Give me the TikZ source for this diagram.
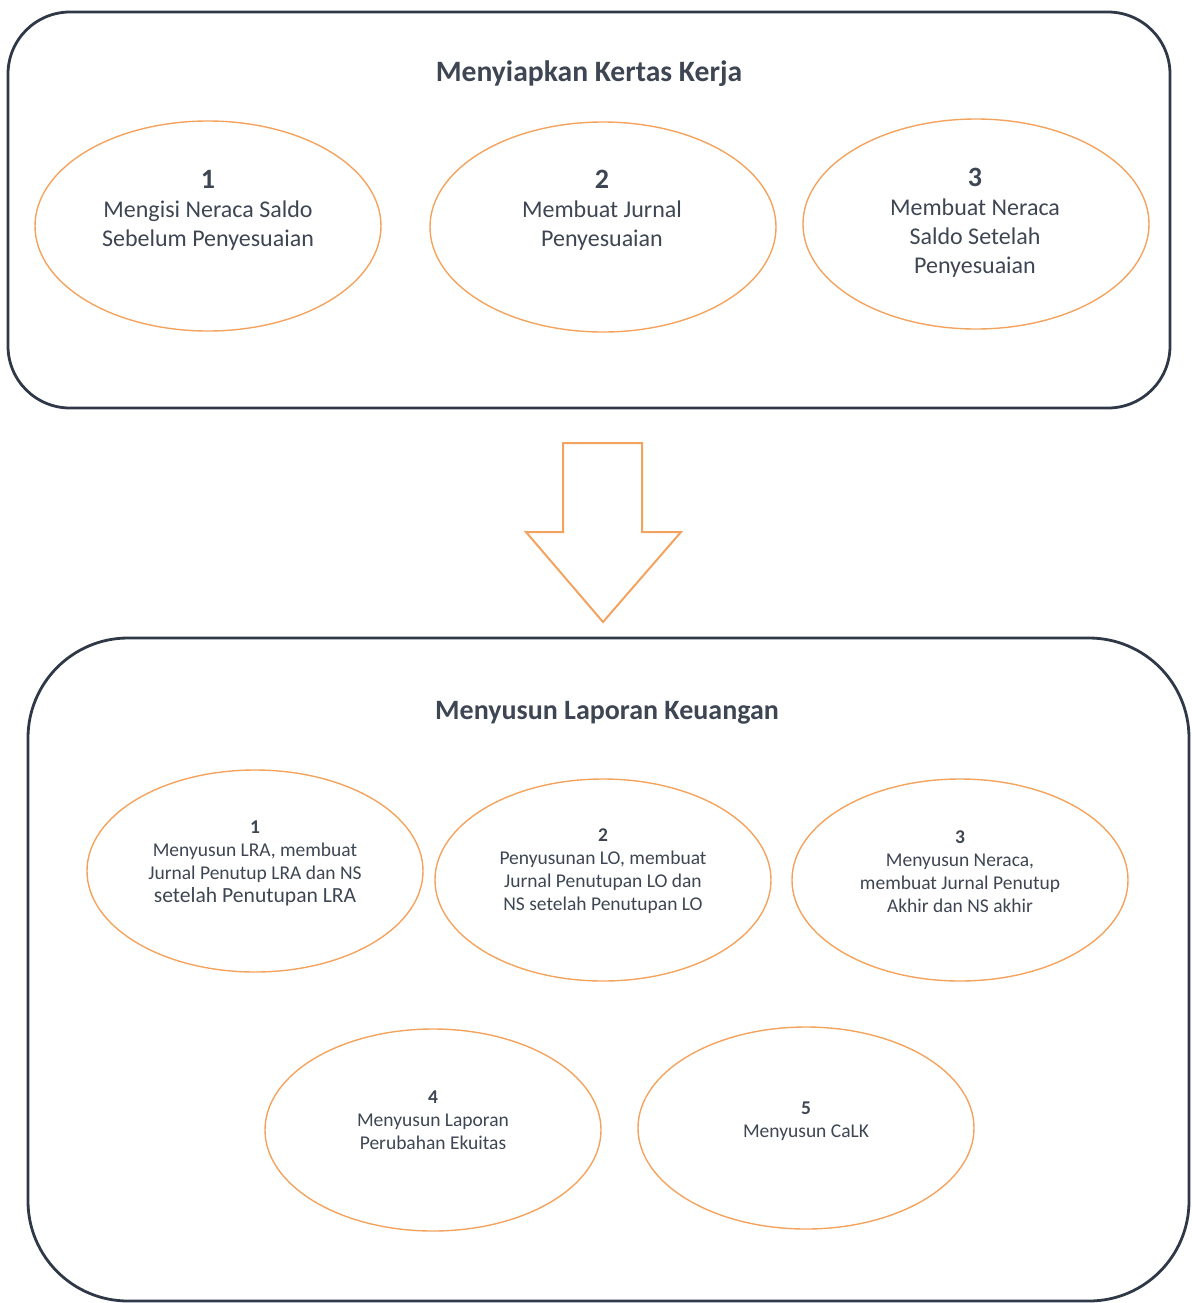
\documentclass[tikz,border=0pt]{standalone}
\usepackage{fontspec}
\setmainfont{Carlito}
\usetikzlibrary{shapes.geometric}
\definecolor{boxc}{HTML}{2F3847}
\definecolor{txtc}{HTML}{3E4653}
\definecolor{orng}{HTML}{F4A35E}
\newcommand{\bignum}[1]{{\fontsize{14}{14.5}\selectfont\bfseries #1}}
\begin{document}
\begin{tikzpicture}[x=0.5pt,y=-0.5pt,
  panel/.style={draw=boxc,line width=1.4pt},
  oval/.style={draw=orng,line width=0.7pt,ellipse,inner sep=0pt},
  bigoval/.style={oval,minimum width=173pt,minimum height=105pt},
  smalloval/.style={oval,minimum width=168pt,minimum height=101pt},
  title/.style={text=txtc,font=\fontsize{14.5}{16}\selectfont\bfseries},
  bigtxt/.style={text=txtc,align=center,font=\fontsize{12}{14.5}\selectfont},
  smalltxt/.style={text=txtc,align=center,font=\fontsize{9.75}{11.5}\selectfont},
  arrowshape/.style={draw=orng,line width=1pt,line join=miter}]
\useasboundingbox (0,0) rectangle (1191,1303);
% top panel
\draw[panel,rounded corners=31pt] (8,12) rectangle (1170,408);
\node[title,font=\fontsize{14.8}{16}\selectfont\bfseries] (t1) at (589,74) {Menyiapkan Kertas Kerja};
\node[bigoval] (e1) at (208,226) {};
\node[bigoval] (e2) at (603,227) {};
\node[bigoval] (e3) at (976,224) {};
\node[bigtxt,anchor=base] (l1) at (208,246) {\bignum{1}\\Mengisi Neraca Saldo\\Sebelum Penyesuaian};
\node[bigtxt,anchor=base] (l2) at (602,246) {\bignum{2}\\Membuat Jurnal\\Penyesuaian};
\node[bigtxt,anchor=base] (l3) at (975,273) {\bignum{3}\\Membuat Neraca\\Saldo Setelah\\Penyesuaian};
% arrow
\draw[arrowshape] (563,443) -- (642,443) -- (642,532) -- (681,532) -- (603,622) -- (526,532) -- (563,532) -- cycle;
% bottom panel
\draw[panel,rounded corners=50pt] (28,638) rectangle (1189,1301);
\node[title,font=\fontsize{14}{16}\selectfont\bfseries] (t2) at (607,713) {Menyusun Laporan Keuangan};
\node[smalloval] (b1) at (255,871) {};
\node[smalloval] (b2) at (603,880) {};
\node[smalloval] (b3) at (960,880) {};
\node[smalloval] (b4) at (433,1130) {};
\node[smalloval] (b5) at (806,1128) {};
\node[smalltxt,anchor=base] (m1) at (255,902) {\textbf{1}\\Menyusun LRA, membuat\\Jurnal Penutup LRA dan NS\\{\fontsize{10.8}{11.5}\selectfont setelah Penutupan LRA}};
\node[smalltxt,anchor=base] (m2) at (603,910) {\textbf{2}\\Penyusunan LO, membuat\\Jurnal Penutupan LO dan\\NS setelah Penutupan LO};
\node[smalltxt,anchor=base] (m3) at (960,912) {\textbf{3}\\Menyusun Neraca,\\membuat Jurnal Penutup\\Akhir dan NS akhir};
\node[smalltxt,anchor=base] (m4) at (433,1149) {\textbf{4}\\Menyusun Laporan\\Perubahan Ekuitas};
\node[smalltxt,anchor=base] (m5) at (806,1137) {\textbf{5}\\Menyusun CaLK};
\end{tikzpicture}
\end{document}
